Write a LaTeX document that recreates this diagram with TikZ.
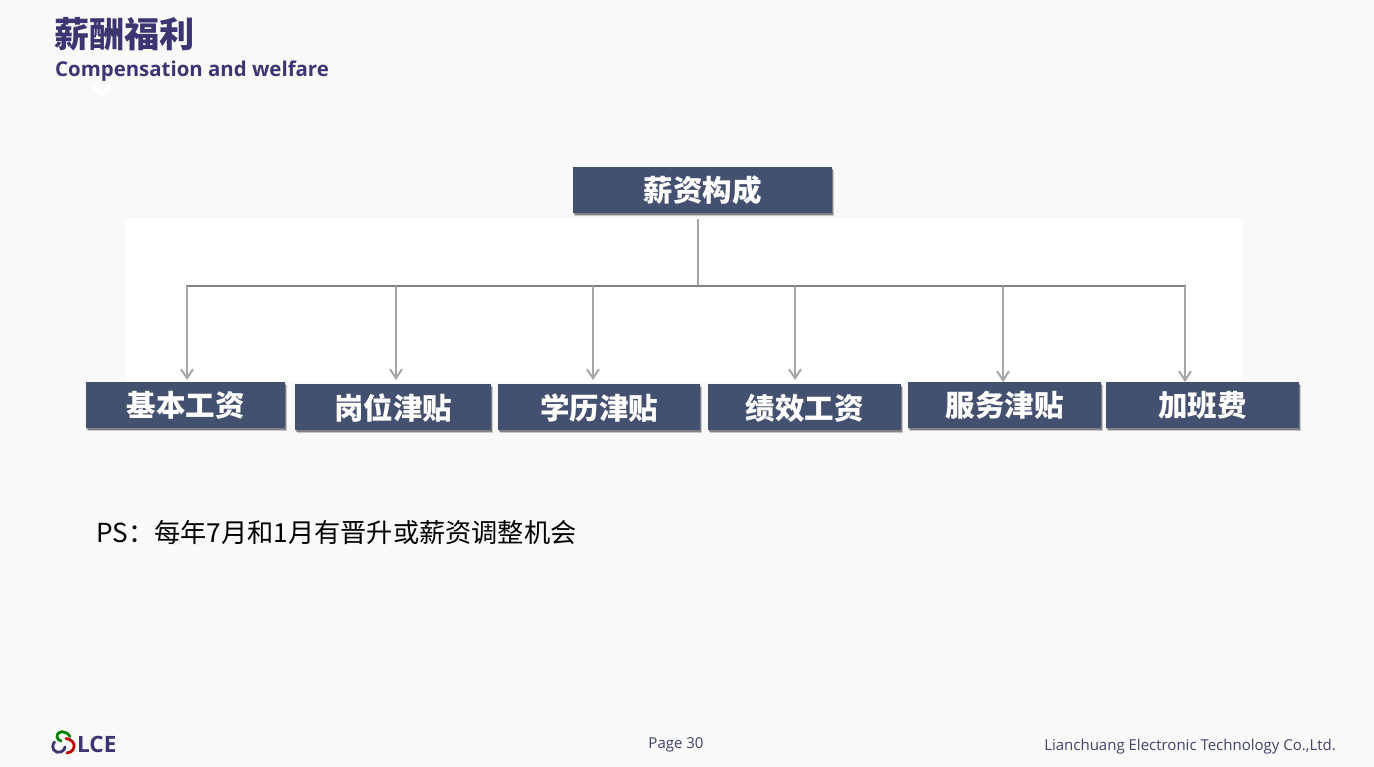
\documentclass[tikz,border=0pt]{standalone}
\usepackage{fontspec}
\setmainfont{Open Sans}
\newfontfamily\cjk{Noto Sans CJK SC}
\usetikzlibrary{arrows.meta,positioning,shadows}
\definecolor{boxblue}{HTML}{44506F}
\definecolor{titleblue}{HTML}{3B3572}
\definecolor{pagegray}{HTML}{F9F9F9}
\definecolor{linegray}{HTML}{A6A6A6}
\definecolor{footblue}{HTML}{3F4468}

\begin{document}
\begin{tikzpicture}[
x=1pt,y=-1pt,
>={Straight Barb[length=9pt,width=12pt]},
box/.style={
	fill=boxblue,
	text=white,
	inner sep=0pt,
	minimum height=46pt,
	text height=25pt,
	text depth=1pt,
	font=\cjk\fontsize{29.5}{30}\selectfont\bfseries,
	drop shadow={shadow xshift=1.8pt,shadow yshift=-3.2pt,opacity=.2,fill=black},
	drop shadow={shadow xshift=1pt,shadow yshift=-1.8pt,opacity=.35,fill=black}
},
projection/.style={
	->,
	linegray,
	line width=2pt
},
rail/.style={
	line width=2pt,
	black!50
},
foot/.style={
	inner sep=0pt,
	footblue,
	font=\fontsize{15}{15}\selectfont
},
swirl/.style={
	line width=2.8pt,
	line cap=round
}
]
\useasboundingbox (0,0) rectangle (1374,767);
\fill[pagegray] (0,0) rectangle (1374,767);
\fill[white] (125,219) rectangle (1243,382);

% header
\node[inner sep=0pt,anchor=west,titleblue,font=\cjk\fontsize{35.2}{36}\selectfont\bfseries] (head) at (54,34) {薪酬福利};
\draw[white,line width=4.5pt] (108,84) arc (0:180:7 and 9);
\node[inner sep=0pt,anchor=west,titleblue,font=\fontsize{20.4}{21}\selectfont\bfseries] (subhead) at (55,71.5) {Compensation and welfare};

% boxes
\node[box,minimum width=259pt] (top) at (702.5,190) {薪资构成};
\foreach \n/\x/\y/\w/\l in {1/185.5/405/199/基本工资,2/393/407/196/岗位津贴,3/599/407/202/学历津贴,4/804.5/407/193/绩效工资,5/1004.5/405/193/服务津贴,6/1202.5/405/193/加班费}
\node[box,minimum width=\w pt] (b\n) at (\x,\y) {\l};

% connectors
\coordinate (trunk) at (698,219);
\coordinate (joint) at (698,286);
\coordinate (railL) at (186,286);
\coordinate (railR) at (1186,286);
\draw[linegray,line width=2pt] (trunk) -- (joint);
\draw[rail] (railL) -- (railR);
\foreach \n/\x/\y in {1/187/380,2/396/380,3/593/380,4/795/380,5/1003/382,6/1185/382}{
\coordinate (s\n) at (\x,286);
\coordinate (e\n) at (\x,\y);
\draw[projection] (s\n) -- (e\n);
}

\node[inner sep=0pt,anchor=west,font=\cjk\fontsize{26.2}{27}\selectfont] (note) at (96,532) {PS：每年7月和1月有晋升或薪资调整机会};

% footer
\draw[swirl,green!50!black] (70,736.5) .. controls (66,730) and (57,730) .. (57,737) .. controls (57,739) and (59,740) .. (61,741);
\draw[swirl,titleblue] (54.5,742) .. controls (50,748) and (55,754) .. (61,752) .. controls (63,751) and (65,749) .. (65,747);
\draw[swirl,red!75!black] (66,738.5) .. controls (71,739) and (75,743) .. (74,747) .. controls (73,751) and (70,753) .. (67,753);
\node[inner sep=0pt,anchor=west,titleblue,font=\fontsize{22.5}{22}\selectfont\bfseries] (logo) at (77,744.5) {LCE};
\node[foot,anchor=center] (page) at (676,745) {Page 30};
\node[foot,anchor=east] (company) at (1336,746.5) {Lianchuang Electronic Technology Co.,Ltd.};
\end{tikzpicture}
\end{document}
